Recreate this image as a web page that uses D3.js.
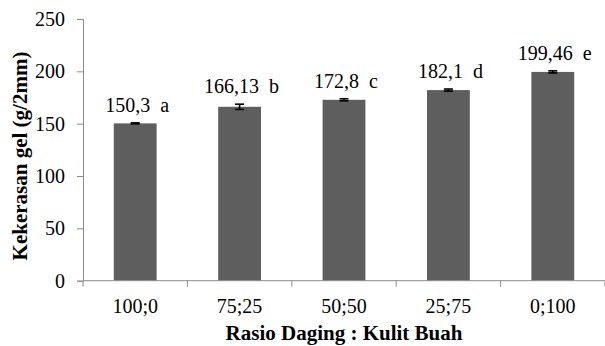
<!DOCTYPE html>
<html>
<head>
<meta charset="utf-8">
<script src="https://cdn.jsdelivr.net/npm/d3@7"></script>
<style>
  html, body { margin: 0; padding: 0; background: #fff; }
  svg { display: block; }
</style>
</head>
<body>
<svg id="chart" width="605" height="346"></svg>
<script>
// Gel hardness by flesh : peel ratio
const categories = ["100;0", "75;25", "50;50", "25;75", "0;100"];
const values = [150.3, 166.13, 172.8, 182.1, 199.46];
const errors = [0.5, 2.5, 1.0, 1.0, 1.0];
const labels = ["150,3  a", "166,13  b", "172,8  c", "182,1  d", "199,46  e"];
const yTicks = [0, 50, 100, 150, 200, 250];

const FONT = "Liberation Serif";

const svg = d3.select("#chart");
const margin = { left: 83, right: 0, top: 19, bottom: 65.3 };
const W = 605, H = 346;

const x = d3.scaleBand()
  .domain(categories)
  .range([margin.left, W - margin.right])
  .paddingInner(0.59)
  .paddingOuter(0.295);

const y = d3.scaleLinear()
  .domain([0, 250])
  .range([H - margin.bottom, margin.top]);

const axisColor = "#8c8c8c";

// bars
svg.append("g").selectAll("rect")
  .data(values)
  .join("rect")
  .attr("x", (d, i) => x(categories[i]))
  .attr("y", d => y(d))
  .attr("width", x.bandwidth())
  .attr("height", d => y(0) - y(d))
  .attr("fill", "#5e5e5e");

// error bars
const eg = svg.append("g").attr("stroke", "#000").attr("stroke-width", 1.6);
values.forEach((v, i) => {
  const cx = x(categories[i]) + x.bandwidth() / 2;
  const top = y(v + errors[i]), bot = y(v - errors[i]);
  eg.append("line").attr("x1", cx).attr("x2", cx).attr("y1", top).attr("y2", bot);
  eg.append("line").attr("x1", cx - 4.5).attr("x2", cx + 4.5).attr("y1", top).attr("y2", top);
  eg.append("line").attr("x1", cx - 4.5).attr("x2", cx + 4.5).attr("y1", bot).attr("y2", bot);
});

// value labels with significance letters
svg.append("g").selectAll("text")
  .data(values)
  .join("text")
  .attr("x", (d, i) => x(categories[i]) + x.bandwidth() / 2 + 2)
  .attr("y", (d, i) => y(d + errors[i]) - 11)
  .attr("text-anchor", "middle")
  .attr("font-family", FONT)
  .attr("font-size", 20)
  .style("white-space", "pre")
  .text((d, i) => labels[i]);

// y axis
const yAxis = svg.append("g")
  .attr("transform", `translate(${margin.left},0)`)
  .call(d3.axisLeft(y).tickValues(yTicks).tickSize(6).tickPadding(12).tickFormat(d3.format("d")))
  .attr("font-family", FONT)
  .attr("font-size", 20);
yAxis.select(".domain").attr("stroke", axisColor);
yAxis.selectAll(".tick line").attr("stroke", axisColor);
yAxis.selectAll(".tick text").attr("fill", "#000");

// x axis with ticks on band boundaries
const xAxisG = svg.append("g").attr("transform", `translate(0,${y(0)})`);
xAxisG.append("line")
  .attr("x1", margin.left).attr("x2", W - margin.right)
  .attr("stroke", axisColor);
const step = x.step();
const bounds = categories.map(c => x(c) - x.paddingInner() * step / 2)
  .concat([x(categories[categories.length - 1]) + x.bandwidth() + x.paddingInner() * step / 2]);
xAxisG.selectAll(".xt")
  .data(bounds)
  .join("line")
  .attr("class", "xt")
  .attr("x1", d => d).attr("x2", d => d)
  .attr("y1", 0).attr("y2", 6)
  .attr("stroke", axisColor);
xAxisG.selectAll(".xl")
  .data(categories)
  .join("text")
  .attr("class", "xl")
  .attr("x", d => x(d) + x.bandwidth() / 2)
  .attr("y", 32)
  .attr("text-anchor", "middle")
  .attr("font-family", FONT)
  .attr("font-size", 20)
  .text(d => d);

// axis titles
svg.append("text")
  .attr("x", (margin.left + W - margin.right) / 2)
  .attr("y", 340)
  .attr("text-anchor", "middle")
  .attr("font-family", FONT)
  .attr("font-size", 21)
  .attr("font-weight", "bold")
  .text("Rasio Daging : Kulit Buah");

svg.append("text")
  .attr("transform", "translate(27,156) rotate(-90)")
  .attr("text-anchor", "middle")
  .attr("font-family", FONT)
  .attr("font-size", 21)
  .attr("font-weight", "bold")
  .text("Kekerasan gel (g/2mm)");
</script>
</body>
</html>
